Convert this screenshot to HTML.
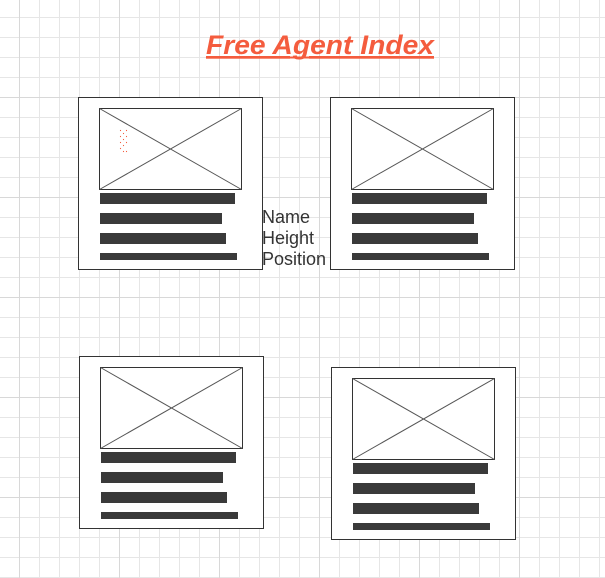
<!DOCTYPE html>
<html><head><meta charset="utf-8"><style>
html,body{margin:0;padding:0;background:#fff}
svg{display:block}
</style></head><body>
<svg width="605" height="578" xmlns="http://www.w3.org/2000/svg">
<defs>
<pattern id="g" x="-1" y="-3" width="20" height="20" patternUnits="userSpaceOnUse">
<path d="M0.5 0V20M0 0.5H20" stroke="#e6e6e6" stroke-width="1" fill="none"/>
</pattern>
<pattern id="G" x="19" y="-3" width="100" height="100" patternUnits="userSpaceOnUse">
<path d="M0.5 0V100M0 0.5H100" stroke="#d8d8d8" stroke-width="1" fill="none"/>
</pattern>
<g id="card">
<rect x="0.5" y="0.5" width="184" height="172" fill="#fff" stroke="#333"/>
<rect x="21.5" y="11.5" width="142" height="81" fill="#fff" stroke="#333"/>
<path d="M21.5 11.5L163.5 92.5M163.5 11.5L21.5 92.5" stroke="#555" stroke-width="1"/>
<rect x="22" y="96" width="135" height="11" fill="#3a3a3a"/>
<rect x="22" y="116" width="122" height="11" fill="#3a3a3a"/>
<rect x="22" y="136" width="126" height="11" fill="#3a3a3a"/>
<rect x="22" y="156" width="137" height="7" fill="#3a3a3a"/>
</g>
</defs>
<rect width="605" height="578" fill="url(#g)"/>
<rect width="605" height="578" fill="url(#G)"/>
<text x="206" y="54" textLength="228" lengthAdjust="spacingAndGlyphs" font-family="Liberation Sans, sans-serif" font-weight="bold" font-style="italic" font-size="27" fill="#f45c3e" text-decoration="underline">Free Agent Index</text>
<line x1="206" y1="57.5" x2="434" y2="57.5" stroke="#f45c3e" stroke-width="2"/>
<use href="#card" x="78" y="97"/>
<use href="#card" x="330" y="97"/>
<use href="#card" x="79" y="356"/>
<use href="#card" x="331" y="367"/>
<g fill="#f45c3e">
<circle cx="120.5" cy="130.5" r="0.6"/><circle cx="126.5" cy="130.5" r="0.6"/>
<circle cx="123.5" cy="133.5" r="0.6"/><circle cx="120.5" cy="136.5" r="0.6"/>
<circle cx="126.5" cy="136.5" r="0.6"/><circle cx="123.5" cy="139.5" r="0.6"/>
<circle cx="120.5" cy="142.5" r="0.6"/><circle cx="126.5" cy="142.5" r="0.6"/>
<circle cx="123.5" cy="145.5" r="0.6"/><circle cx="120.5" cy="148.5" r="0.6"/>
<circle cx="126.5" cy="151.5" r="0.6"/><circle cx="123.5" cy="151.5" r="0.6"/>
</g>
<g font-family="Liberation Sans, sans-serif" font-size="18" fill="#333">
<text x="262" y="223">Name</text>
<text x="262" y="244">Height</text>
<text x="262" y="265">Position</text>
</g>
</svg>
</body></html>
